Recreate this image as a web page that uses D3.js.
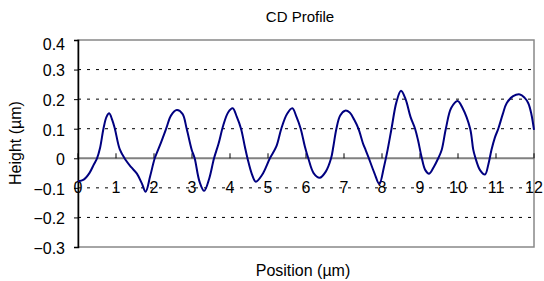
<!DOCTYPE html>
<html>
<head>
<meta charset="utf-8">
<script src="https://cdn.jsdelivr.net/npm/d3@7"></script>
<style>
  body { margin: 0; background: #fff; }
  text { font-family: "Liberation Sans", Arial, sans-serif; fill: #000; }
</style>
</head>
<body>
<div id="chart"></div>
<script>
// ===== Données =====
const positions = [
  0, 0.15, 0.3, 0.42, 0.5, 0.58, 0.67, 0.75, 0.82, 0.9, 0.97, 1.1, 1.25, 1.4, 1.55, 1.68, 1.78, 1.9,
  2.02, 2.16, 2.32, 2.45, 2.6, 2.75, 2.86, 2.99, 3.07, 3.2, 3.32, 3.45,
  3.58, 3.7, 3.82, 3.95, 4.07, 4.18, 4.29, 4.39, 4.46, 4.58, 4.68, 4.85,
  5.05, 5.22, 5.35, 5.5, 5.64, 5.75, 5.86, 5.97, 6.06, 6.2, 6.36, 6.52,
  6.66, 6.72, 6.8, 6.9, 7.03, 7.15, 7.27, 7.38, 7.5, 7.57, 7.64, 7.8, 7.93,
  8.05, 8.15, 8.25, 8.38, 8.5, 8.62, 8.75, 8.87, 8.95, 9.04, 9.14, 9.24,
  9.36, 9.48, 9.57, 9.68, 9.82, 9.99, 10.12, 10.32, 10.4, 10.45, 10.58, 10.71,
  10.8, 10.88, 10.97, 11.06, 11.18, 11.28, 11.45, 11.63, 11.75, 11.85, 11.93, 12
];
const heights = [
  -0.078, -0.072, -0.05, -0.02, 0.0, 0.035, 0.1, 0.14, 0.152, 0.13, 0.1, 0.03, -0.005, -0.03, -0.052, -0.085, -0.113, -0.06,
  0.0, 0.045, 0.1, 0.145, 0.163, 0.15, 0.1, 0.03, 0.0, -0.08, -0.11, -0.07,
  0.0, 0.05, 0.11, 0.155, 0.169, 0.14, 0.1, 0.04, 0.0, -0.055, -0.079, -0.055,
  0.0, 0.04, 0.1, 0.15, 0.169, 0.14, 0.1, 0.04, 0.0, -0.05, -0.066, -0.045,
  0.0, 0.04, 0.1, 0.145, 0.161, 0.155, 0.13, 0.1, 0.05, 0.028, 0.005, -0.05, -0.087,
  -0.03, 0.03, 0.1, 0.19, 0.228, 0.2, 0.14, 0.1, 0.06, 0.005, -0.04, -0.052,
  -0.03, 0.0, 0.028, 0.1, 0.17, 0.194, 0.17, 0.1, 0.03, 0.005, -0.04, -0.055,
  -0.02, 0.028, 0.07, 0.1, 0.15, 0.186, 0.21, 0.216, 0.205, 0.186, 0.15, 0.096
];
const xTicks = [0, 1, 2, 3, 4, 5, 6, 7, 8, 9, 10, 11, 12];
const yTicks = [-0.3, -0.2, -0.1, 0, 0.1, 0.2, 0.3, 0.4];

const data = positions.map((p, i) => ({ x: p, y: heights[i] }));

// ===== Dimensions =====
const W = 544, H = 281;
const margin = { top: 40, right: 10, bottom: 34, left: 78 };
const width = W - margin.left - margin.right;
const height = H - margin.top - margin.bottom;

const svg = d3.select("#chart").append("svg")
  .attr("width", W).attr("height", H);

const g = svg.append("g")
  .attr("transform", `translate(${margin.left},${margin.top})`);

const x = d3.scaleLinear().domain([0, 12]).range([0, width]);
const y = d3.scaleLinear().domain([-0.3, 0.4]).range([height, 0]);

// ===== Grille pointillée =====
g.selectAll(".grid")
  .data(yTicks.filter((d) => d !== 0 && d !== 0.4 && d !== -0.3))
  .enter().append("line")
  .attr("x1", 0).attr("x2", width)
  .attr("y1", (d) => y(d)).attr("y2", (d) => y(d))
  .attr("stroke", "#000").attr("stroke-width", 1)
  .attr("stroke-dasharray", "3,6");

// ===== Cadre =====
g.append("rect")
  .attr("x", 0).attr("y", 0).attr("width", width).attr("height", height)
  .attr("fill", "none").attr("stroke", "#888").attr("stroke-width", 1.5);

// ligne zéro
g.append("line")
  .attr("x1", 0).attr("x2", width)
  .attr("y1", y(0)).attr("y2", y(0))
  .attr("stroke", "#808080").attr("stroke-width", 2);

// ticks X sur la ligne zéro (vers le haut)
g.selectAll(".xtick")
  .data(xTicks)
  .enter().append("line")
  .attr("x1", (d) => x(d)).attr("x2", (d) => x(d))
  .attr("y1", y(0)).attr("y2", y(0) - 5)
  .attr("stroke", "#000").attr("stroke-width", 1);

// axe Y
const yAxis = g.append("g")
  .call(d3.axisLeft(y).tickValues(yTicks).tickSize(4).tickPadding(9)
    .tickFormat((d) => (d === 0 ? "0" : d3.format(".1f")(d))));
yAxis.select(".domain").attr("stroke", "#000").attr("stroke-width", 1.5);
yAxis.selectAll(".tick line").attr("stroke", "#000");
yAxis.selectAll("text")
  .style("font-size", "16px")
  .attr("fill", "#000")
  .attr("dy", (d) => (d === 0.4 ? "0.6em" : "0.4em"));

// labels X
g.selectAll(".xlabel")
  .data(xTicks)
  .enter().append("text")
  .attr("x", (d) => x(d))
  .attr("y", y(-0.1) + 5)
  .attr("text-anchor", "middle")
  .style("font-size", "16px")
  .text((d) => d);

// ===== Courbe =====
const line = d3.line()
  .x((d) => x(d.x))
  .y((d) => y(d.y))
  .curve(d3.curveCatmullRom.alpha(0.5));

g.append("path")
  .datum(data)
  .attr("fill", "none")
  .attr("stroke", "#000080")
  .attr("stroke-width", 2)
  .attr("d", line);

// ===== Titres =====
svg.append("text")
  .attr("x", 300).attr("y", 22)
  .attr("text-anchor", "middle")
  .style("font-size", "15px")
  .text("CD Profile");

svg.append("text")
  .attr("x", 303).attr("y", 276)
  .attr("text-anchor", "middle")
  .style("font-size", "16px")
  .text("Position (µm)");

svg.append("text")
  .attr("transform", "translate(21,143) rotate(-90)")
  .attr("text-anchor", "middle")
  .style("font-size", "16px")
  .text("Height (µm)");
</script>
</body>
</html>
